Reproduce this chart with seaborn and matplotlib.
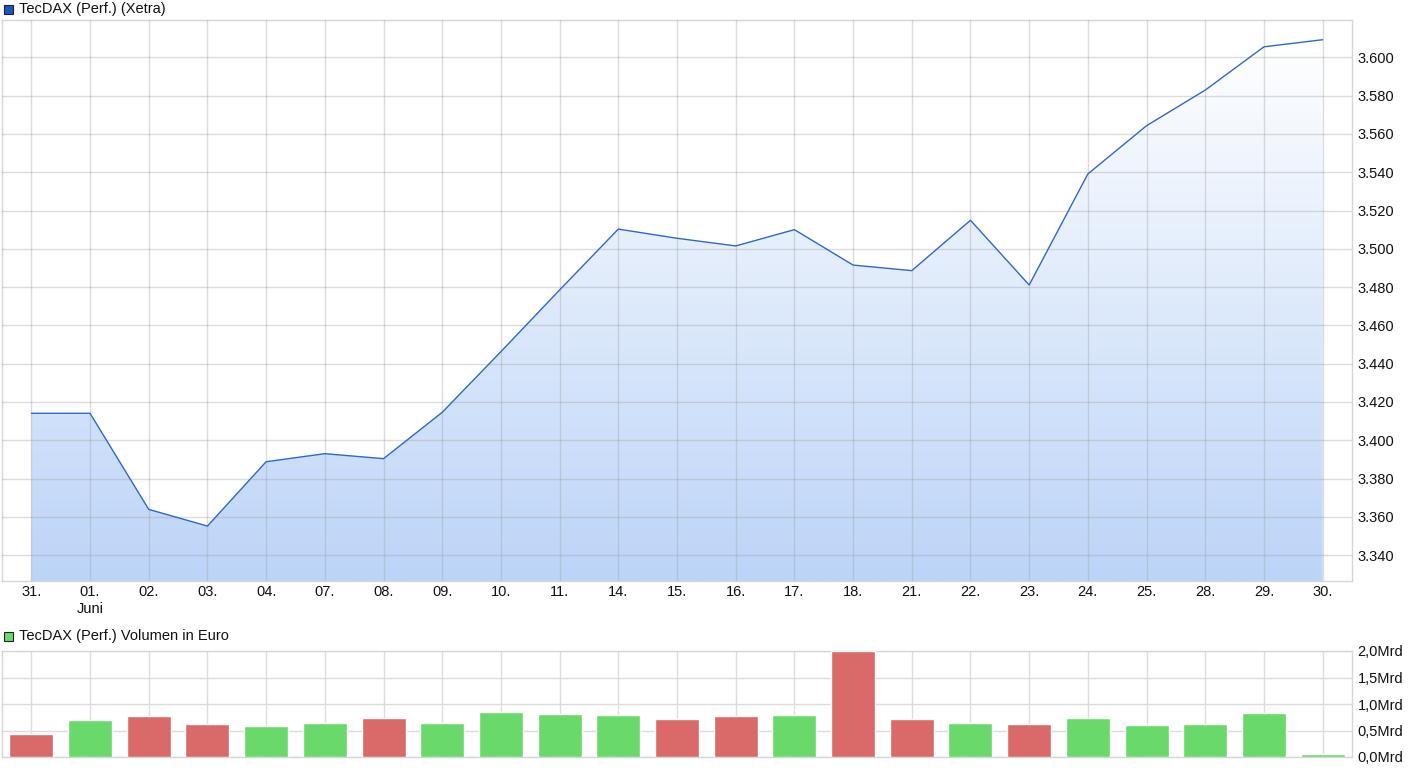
import numpy as np
import pandas as pd
import matplotlib
matplotlib.use("Agg")
import matplotlib.pyplot as plt
import seaborn as sns
from matplotlib.patches import Rectangle
from matplotlib.colors import LinearSegmentedColormap

# data
days = ["31.", "01.", "02.", "03.", "04.", "07.", "08.", "09.", "10.", "11.", "14.", "15.",
        "16.", "17.", "18.", "21.", "22.", "23.", "24.", "25.", "28.", "29.", "30."]
kurs = [3414.1, 3414.1, 3363.9, 3355.2, 3388.8, 3393.0, 3390.4, 3414.6, 3446.3, 3478.5,
        3510.3, 3505.5, 3501.5, 3510.0, 3491.5, 3488.6, 3514.9, 3481.1, 3539.1, 3564.3,
        3582.9, 3605.5, 3609.2]
volumen = [0.43, 0.70, 0.77, 0.62, 0.58, 0.64, 0.74, 0.64, 0.85, 0.81, 0.79, 0.72,
           0.77, 0.79, 2.00, 0.72, 0.64, 0.62, 0.74, 0.60, 0.62, 0.83, 0.06]
richtung = ["down", "up", "down", "down", "up", "up", "down", "up", "up", "up", "up", "down",
            "down", "up", "down", "down", "up", "down", "up", "up", "up", "up", "up"]
y_ticks = [3340 + 20 * i for i in range(14)]
vol_ticks = [0.0, 0.5, 1.0, 1.5, 2.0]

sns.set_style("white")
plt.rcParams["font.family"] = ["Liberation Sans", "DejaVu Sans"]
FS = 10.5

W, H = 1410, 772
fig = plt.figure(figsize=(W / 100, H / 100), dpi=100)

def px_axes(x0, y0, x1, y1):
    return fig.add_axes([x0 / W, 1 - y1 / H, (x1 - x0) / W, (y1 - y0) / H])

ax = px_axes(2, 20, 1352, 581)
axv = px_axes(2, 651, 1352, 757)

df = pd.DataFrame({"pos": np.arange(len(days)), "kurs": kurs, "vol": volumen, "dir": richtung})

# price line with gradient fill
ymin, ymax = 3326.5, 3619.5
ax.set_xlim(-0.5, len(days) - 0.5)
ax.set_ylim(ymin, ymax)
poly = ax.fill_between(df["pos"], df["kurs"], ymin, color="none", lw=0)
cmap = LinearSegmentedColormap.from_list("grad", ["#bcd4f8", "#ffffff"])
top = ymin + (ymax - ymin) * (541 / 561)
grad = np.linspace(0, 1, 256).reshape(-1, 1)
img = ax.imshow(grad, cmap=cmap, aspect="auto", origin="lower",
                extent=[-0.5, len(days) - 0.5, ymin, top], zorder=1)
img.set_clip_path(poly.get_paths()[0], transform=ax.transData)
ax.set_ylim(ymin, ymax)
sns.lineplot(data=df, x="pos", y="kurs", ax=ax, color="#2f68c8", lw=1.0, zorder=3)

ax.set_xticks(df["pos"])
ax.set_xticklabels([d + "\nJuni" if d == "01." else d for d in days], va="top", linespacing=1.25)
ax.set_yticks(y_ticks)
ax.set_yticklabels([f"{v // 1000}.{v % 1000:03d}" for v in y_ticks])
ax.yaxis.tick_right()
ax.tick_params(axis="both", length=0, labelsize=FS, colors="#111111")
ax.tick_params(axis="x", pad=3)
ax.tick_params(axis="y", pad=4)
ax.set_xlabel("")
ax.set_ylabel("")
ax.grid(True, color="#a0a0a0", alpha=0.36, lw=1)
ax.set_axisbelow(False)
for s in ax.spines.values():
    s.set_color("#d6d6d6")
    s.set_linewidth(1)

# volume bars
sns.barplot(data=df, x="pos", y="vol", hue="dir", palette={"up": "#6ad96b", "down": "#da696a"},
            dodge=False, width=0.75, legend=False, ax=axv, zorder=3, saturation=1, native_scale=True)
axv.set_xlim(-0.5, len(days) - 0.5)
axv.set_ylim(0, 2.0)
axv.set_xticks(df["pos"])
axv.set_xticklabels([])
axv.set_yticks(vol_ticks)
axv.set_yticklabels([f"{v:.1f}".replace(".", ",") + "Mrd" for v in vol_ticks])
axv.yaxis.tick_right()
axv.tick_params(axis="both", length=0, labelsize=FS, colors="#111111")
axv.tick_params(axis="y", pad=4)
axv.set_xlabel("")
axv.set_ylabel("")
axv.grid(True, color="#dcdcdc", lw=1)
axv.set_axisbelow(True)
for s in axv.spines.values():
    s.set_color("#d6d6d6")
    s.set_linewidth(1)

# legend headers
def header(y_px, color, text):
    fig.add_artist(Rectangle((4 / W, 1 - (y_px + 5) / H), 9 / W, 9 / H, transform=fig.transFigure,
                             facecolor=color, edgecolor="#222222", lw=0.8))
    fig.text(19 / W, 1 - y_px / H, text, va="center", ha="left", fontsize=FS, color="#111111")

header(9, "#1a56c4", "TecDAX (Perf.) (Xetra)")
header(636, "#6ad96b", "TecDAX (Perf.) Volumen in Euro")

fig.savefig("out.png", dpi=100, facecolor="white")
